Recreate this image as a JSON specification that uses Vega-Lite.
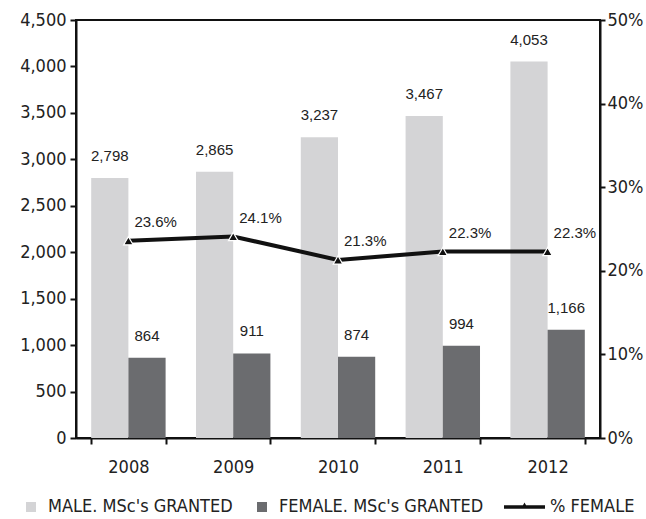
{
  "$schema": "https://vega.github.io/schema/vega-lite/v6.json",
  "width": 524,
  "height": 418,
  "autosize": "none",
  "padding": {"left": 76, "top": 20, "right": 46, "bottom": 81},
  "config": {
    "view": {"stroke": "#111", "strokeWidth": 2},
    "font": "DejaVu Sans Condensed",
    "axis": {"domainColor": "#111", "domainWidth": 2, "tickColor": "#111", "tickWidth": 2, "grid": false, "title": null, "labelFont": "DejaVu Sans Condensed", "labelFontSize": 18, "labelColor": "#222"}
  },
  "datasets": {
    "bars": [
      {"year": "2008", "series": "MALE. MSc's GRANTED", "value": 2798},
      {"year": "2009", "series": "MALE. MSc's GRANTED", "value": 2865},
      {"year": "2010", "series": "MALE. MSc's GRANTED", "value": 3237},
      {"year": "2011", "series": "MALE. MSc's GRANTED", "value": 3467},
      {"year": "2012", "series": "MALE. MSc's GRANTED", "value": 4053},
      {"year": "2008", "series": "FEMALE. MSc's GRANTED", "value": 864},
      {"year": "2009", "series": "FEMALE. MSc's GRANTED", "value": 911},
      {"year": "2010", "series": "FEMALE. MSc's GRANTED", "value": 874},
      {"year": "2011", "series": "FEMALE. MSc's GRANTED", "value": 994},
      {"year": "2012", "series": "FEMALE. MSc's GRANTED", "value": 1166}
    ],
    "pct": [
      {"year": "2008", "pct": 0.236},
      {"year": "2009", "pct": 0.241},
      {"year": "2010", "pct": 0.213},
      {"year": "2011", "pct": 0.223},
      {"year": "2012", "pct": 0.223}
    ]
  },
  "encoding": {
    "x": {
      "field": "year", "type": "nominal",
      "scale": {"paddingInner": 0.29, "paddingOuter": 0.145},
      "axis": {"labelAngle": 0, "tickBand": "extent", "tickSize": 6, "labelPadding": 14, "domain": true}
    }
  },
  "layer": [
    {
      "data": {"name": "bars"},
      "encoding": {
        "xOffset": {"field": "series", "type": "nominal", "scale": {"domain": ["MALE. MSc's GRANTED", "FEMALE. MSc's GRANTED"], "paddingInner": 0, "paddingOuter": 0}},
        "y": {
          "field": "value", "type": "quantitative",
          "scale": {"domain": [0, 4500], "nice": false},
          "axis": {"orient": "left", "values": [0, 500, 1000, 1500, 2000, 2500, 3000, 3500, 4000, 4500], "format": ",d", "tickSize": 6, "labelPadding": 4}
        }
      },
      "layer": [
        {
          "mark": {"type": "bar"},
          "encoding": {
            "color": {
              "field": "series", "type": "nominal",
              "scale": {"domain": ["MALE. MSc's GRANTED", "FEMALE. MSc's GRANTED", "% FEMALE"], "range": ["#d4d4d6", "#6b6c6f", "#111111"]},
              "legend": {
                "orient": "none", "legendX": -54, "legendY": 478, "direction": "horizontal",
                "title": null, "symbolSize": 100, "symbolType": "square", "symbolStrokeWidth": 0,
                "labelFont": "DejaVu Sans Condensed", "labelFontSize": 18, "labelColor": "#222", "labelLimit": 400,
                "columnPadding": 20, "labelOffset": 8, "padding": 0,
                "encode": {"symbols": {"update": {"shape": {"signal": "datum.value === '% FEMALE' ? 'M-5.8,-0.35H2.4V0.35H-5.8Z M-2.4,0.35L-1.7,-0.9L-1.0,0.35Z' : 'square'"}}}}
              }
            }
          }
        },
        {
          "mark": {"type": "text", "dy": -22, "font": "Liberation Sans", "fontSize": 15, "color": "#222", "baseline": "middle"},
          "encoding": {"text": {"field": "value", "type": "quantitative", "format": ",d"}}
        }
      ]
    },
    {
      "data": {"name": "pct"},
      "encoding": {
        "y": {
          "field": "pct", "type": "quantitative",
          "scale": {"domain": [0, 0.5], "nice": false},
          "axis": {"orient": "right", "values": [0, 0.1, 0.2, 0.3, 0.4, 0.5], "format": ".0%", "tickSize": 5, "labelPadding": 2}
        }
      },
      "layer": [
        {"mark": {"type": "line", "color": "#111", "strokeWidth": 4}},
        {"mark": {"type": "point", "shape": "triangle-up", "filled": true, "fill": "#111", "stroke": "#fff", "strokeWidth": 1.2, "size": 90, "opacity": 1}},
        {
          "mark": {"type": "text", "align": "left", "dx": 6, "dy": -19, "font": "Liberation Sans", "fontSize": 15, "color": "#222", "baseline": "middle"},
          "encoding": {"text": {"field": "pct", "type": "quantitative", "format": ".1%"}}
        }
      ]
    }
  ],
  "resolve": {"scale": {"y": "independent"}}
}
